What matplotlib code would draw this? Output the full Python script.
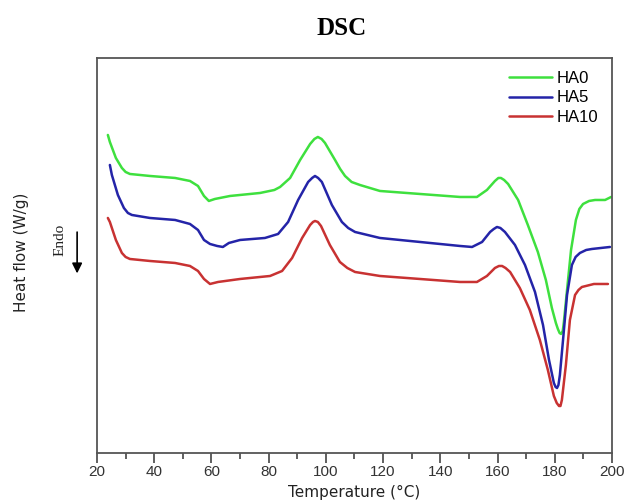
import matplotlib
matplotlib.use("Agg")
import matplotlib.pyplot as plt
from matplotlib.ticker import MultipleLocator

# Temperature (°C) and heat flow (arbitrary units, W/g)
t_ha0 = [23.8, 24.5, 26.6, 28.7, 30.0, 31.5, 38.5, 47.3, 52.5, 55.3, 57.4, 59.1, 61.2, 66.5, 77.0,
         82.0, 84.0, 87.5, 91.0, 94.5, 96.0, 97.2, 98.5, 99.7, 103.2, 105.0, 106.7, 109.0, 111.9,
         118.9, 132.9, 146.9, 152.8, 156.3, 159.1, 160.3, 161.2, 162.3, 163.7, 167.2, 170.6,
         174.1, 176.9, 179.0, 180.4, 181.1, 181.7, 182.2, 182.8, 183.2, 184.3, 185.7, 187.4,
         188.6, 189.9, 192.0, 194.1, 197.6, 199.7]
hf_ha0 = [3.18, 3.11, 2.95, 2.85, 2.81, 2.79, 2.77, 2.75, 2.72, 2.67, 2.57, 2.52, 2.54, 2.57, 2.60,
          2.63, 2.66, 2.75, 2.93, 3.09, 3.14, 3.16, 3.14, 3.10, 2.93, 2.84, 2.77, 2.71, 2.68,
          2.62, 2.59, 2.56, 2.56, 2.63, 2.72, 2.75, 2.75, 2.73, 2.69, 2.53, 2.28,
          2.01, 1.73, 1.45, 1.30, 1.24, 1.20, 1.19, 1.22, 1.31, 1.63, 2.03, 2.33,
          2.44, 2.49, 2.52, 2.53, 2.53, 2.56]

t_ha5 = [24.5, 25.2, 27.3, 29.4, 30.8, 32.2, 38.5, 47.3, 52.5, 55.3, 57.4, 59.5, 62.0, 64.0, 66.1,
         70.0, 78.7, 83.3, 86.8, 90.3, 93.8, 95.2, 96.2, 97.3, 98.6, 102.1, 105.6, 107.8, 110.2,
         118.9, 132.9, 146.9, 151.1, 154.6, 157.4, 158.7, 159.8, 161.0, 162.6, 166.1, 169.6,
         173.1, 175.9, 178.0, 179.7, 180.3, 180.8, 181.3, 181.8, 182.9, 184.3, 186.0, 187.3,
         188.8, 191.0, 193.0, 199.3]
hf_ha5 = [2.88, 2.78, 2.58, 2.45, 2.40, 2.38, 2.35, 2.33, 2.29, 2.23, 2.13, 2.09, 2.07, 2.06, 2.10,
          2.13, 2.15, 2.19, 2.31, 2.53, 2.71, 2.75, 2.77, 2.75, 2.71, 2.48, 2.31, 2.25, 2.21,
          2.15, 2.11, 2.07, 2.06, 2.11, 2.21, 2.24, 2.26, 2.25, 2.21, 2.08, 1.88,
          1.61, 1.28, 0.93, 0.70, 0.66, 0.65, 0.68, 0.78, 1.13, 1.58, 1.88, 1.96,
          2.00, 2.03, 2.04, 2.06]

t_ha10 = [23.8, 24.5, 26.6, 28.7, 30.0, 31.5, 38.5, 47.3, 52.5, 55.3, 57.4, 59.5, 62.3, 70.0, 80.5,
          84.7, 88.2, 91.7, 94.5, 95.5, 96.2, 97.2, 98.3, 101.4, 104.9, 107.5, 110.2, 118.9,
          132.9, 146.9, 152.8, 156.3, 159.1, 160.5, 161.6, 162.8, 164.4, 167.8, 171.3, 174.8,
          177.6, 179.7, 180.7, 181.5, 182.0, 182.5, 183.9, 185.3, 187.1, 188.3, 189.5, 193.7,
          198.6]
hf_ha10 = [2.35, 2.31, 2.13, 2.00, 1.96, 1.94, 1.92, 1.90, 1.87, 1.82, 1.74, 1.69, 1.71, 1.74, 1.77,
           1.82, 1.95, 2.15, 2.28, 2.31, 2.32, 2.31, 2.27, 2.08, 1.91, 1.85, 1.81, 1.77,
           1.74, 1.71, 1.71, 1.77, 1.85, 1.87, 1.87, 1.85, 1.81, 1.65, 1.43, 1.13,
           0.83, 0.57, 0.50, 0.47, 0.47, 0.53, 0.88, 1.33, 1.58, 1.63, 1.66, 1.69,
           1.69]

labels = ["HA0", "HA5", "HA10"]
colors = ["#3ee03e", "#2424a8", "#c83232"]

fig = plt.figure(figsize=(6.27, 5.04), dpi=100)
ax = fig.add_axes([0.1547, 0.1012, 0.8213, 0.7838])

for t, hf, lab, c in zip([t_ha0, t_ha5, t_ha10], [hf_ha0, hf_ha5, hf_ha10], labels, colors):
    ax.plot(t, hf, color=c, lw=1.8, label=lab, solid_joinstyle="round", solid_capstyle="round")

ax.set_xlim(20, 200)
ax.set_ylim(0, 3.95)
ax.xaxis.set_major_locator(MultipleLocator(20))
ax.xaxis.set_minor_locator(MultipleLocator(10))
ax.set_yticks([])
ax.tick_params(axis="x", which="major", length=7, width=1.2, color="#444444",
               labelsize=11, labelcolor="#333333", pad=2)
ax.tick_params(axis="x", which="minor", length=4, width=1.2, color="#444444")
for s in ax.spines.values():
    s.set_color("#555555")
    s.set_linewidth(1.3)
for lbl in ax.get_xticklabels():
    lbl.set_family("Liberation Sans")

ax.set_xlabel("Temperature (°C)", fontsize=11, color="#222222", labelpad=4, family="DejaVu Sans")

leg = ax.legend(loc="upper right", frameon=False, handlelength=2.6,
                handletextpad=0.3, labelspacing=0.25, borderaxespad=0.4,
                prop={"family": "Liberation Sans", "size": 12})

fig.text(0.545, 0.944, "DSC", ha="center", va="center", fontsize=18, fontweight="bold",
         family="Liberation Serif")
fig.text(0.035, 0.50, "Heat flow (W/g)", rotation=90, ha="center", va="center",
         fontsize=11, color="#222222", family="DejaVu Sans")
fig.text(0.096, 0.525, "Endo", rotation=90, ha="center", va="center",
         fontsize=11, color="#222222", family="Liberation Serif")
fig.patches.append(matplotlib.patches.FancyArrowPatch(
    (0.123, 0.545), (0.123, 0.452), transform=fig.transFigure, figure=fig,
    arrowstyle="-|>,head_length=6,head_width=3", color="black", lw=1.2))

fig.savefig("out.png", dpi=100)
